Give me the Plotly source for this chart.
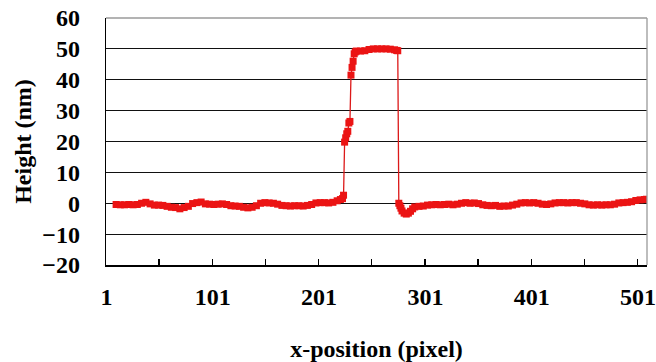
import plotly.graph_objects as go

# x-position (pixel) categories and measured heights (nm)
x_pos = [10, 14, 18, 22, 26, 30, 34, 38, 42, 46, 50, 54, 58, 62, 66, 70, 74, 78,
         82, 86, 90, 94, 98, 102, 106, 110, 114, 118, 122, 126, 130, 134, 138, 142,
         146, 150, 154, 158, 162, 166, 170, 174, 178, 182, 186, 190, 194, 198, 202,
         206, 210, 214, 218, 221, 223, 224, 225, 226, 227, 228, 229, 230, 231, 232,
         233, 234, 235, 236, 240, 244, 248, 252, 256, 260, 264, 268, 272, 274, 275,
         276, 277, 278, 279, 281, 283, 285, 287, 289, 291, 295, 299, 303, 307, 311,
         315, 319, 323, 327, 331, 335, 339, 343, 347, 351, 355, 359, 363, 367, 371,
         375, 379, 383, 387, 391, 395, 399, 403, 407, 411, 415, 419, 423, 427, 431,
         435, 439, 443, 447, 451, 455, 459, 463, 467, 471, 475, 479, 483, 487, 491,
         495, 499, 503, 507, 509]
height_nm = [-0.4, -0.5, -0.5, -0.4, -0.5, -0.4, 0.0, 0.3, -0.2, -0.6, -0.6, -0.7, -1.0,
             -1.3, -1.4, -1.8, -1.4, -1.0, -0.1, 0.2, 0.4, -0.2, -0.3, -0.4, -0.3, -0.2,
             -0.4, -0.8, -0.9, -1.0, -1.3, -1.5, -1.3, -0.8, 0.0, 0.2, 0.1, 0.0, -0.3,
             -0.7, -0.8, -0.9, -0.8, -0.8, -0.9, -0.7, -0.4, 0.1, 0.2, 0.2, 0.1, 0.3,
             0.8, 1.2, 1.5, 2.6, 19.8, 21.2, 22.5, 23.3, 26.0, 26.5, 41.5, 44.0, 46.0,
             48.4, 49.0, 49.3, 49.3, 49.4, 49.8, 50.0, 50.0, 50.0, 50.0, 49.9, 49.7,
             49.5, 49.4, 0.0, -0.8, -1.6, -2.5, -3.2, -3.5, -3.2, -2.6, -1.8, -1.2,
             -1.0, -0.9, -0.6, -0.5, -0.4, -0.5, -0.4, -0.3, -0.5, -0.3, 0.0, 0.2, 0.0,
             0.1, -0.1, -0.5, -0.7, -0.8, -0.7, -1.0, -0.9, -0.9, -0.6, -0.3, 0.1, 0.2,
             0.1, 0.2, 0.0, -0.3, -0.4, -0.2, 0.1, 0.2, 0.2, 0.1, 0.2, 0.2, 0.0, -0.2,
             -0.5, -0.6, -0.5, -0.6, -0.5, -0.5, -0.3, 0.1, 0.2, 0.3, 0.5, 0.9, 1.1,
             1.2, 1.3]

x_tick_labels = [1, 101, 201, 301, 401, 501]
x_tick_marks = [50.5, 100.5, 150.5, 200.5, 250.5, 300.5, 350.5, 400.5, 450.5, 500.5]
y_ticks = [-20, -10, 0, 10, 20, 30, 40, 50, 60]

FONT = "Liberation Serif, Times New Roman, serif"
TICKFONT = dict(size=24, family=FONT, weight="bold", color="black")

fig = go.Figure()
fig.add_trace(go.Scatter(
    x=x_pos, y=height_nm, mode="lines+markers",
    line=dict(color="rgb(220,25,25)", width=1.3),
    marker=dict(symbol="square", size=7, color="rgb(235,20,20)", line=dict(width=0)),
    cliponaxis=True, showlegend=False, hoverinfo="skip",
))

fig.update_layout(
    width=656, height=362,
    margin=dict(l=106, r=9, t=18, b=97, autoexpand=False),
    paper_bgcolor="white", plot_bgcolor="white",
    font=dict(family=FONT, color="black"),
    xaxis=dict(
        range=[0.5, 509.5], automargin=False,
        tickmode="array", tickvals=x_tick_labels, ticktext=[str(v) for v in x_tick_labels],
        ticks="", showgrid=False, zeroline=False,
        showline=True, linecolor="black", linewidth=1.5,
        tickfont=TICKFONT,
        ticklabelstandoff=10,
        minor=dict(tickmode="array", tickvals=x_tick_marks, ticks="inside",
                   ticklen=6, tickwidth=1.3, tickcolor="black", showgrid=False),
        title=dict(text="x-position (pixel)", font=TICKFONT, standoff=34),
    ),
    yaxis=dict(
        range=[-20, 60], automargin=False,
        tickmode="array", tickvals=y_ticks,
        ticks="", showgrid=True, gridcolor="#111111", gridwidth=1,
        zeroline=False,
        showline=True, linecolor="black", linewidth=1.3,
        tickfont=TICKFONT,
        ticklabelstandoff=20,
        title=dict(text="Height (nm)", font=TICKFONT, standoff=3),
    ),
    shapes=[
        dict(type="line", xref="paper", yref="paper", x0=0, x1=1, y0=1, y1=1,
             line=dict(color="#9a9a9a", width=1.3), layer="above"),
        dict(type="line", xref="paper", yref="paper", x0=1, x1=1, y0=0, y1=1,
             line=dict(color="#9a9a9a", width=1.3), layer="above"),
    ],
)

fig.write_html("out.html", config={"displayModeBar": False, "staticPlot": True},
               post_script="document.body.style.margin='0';")
